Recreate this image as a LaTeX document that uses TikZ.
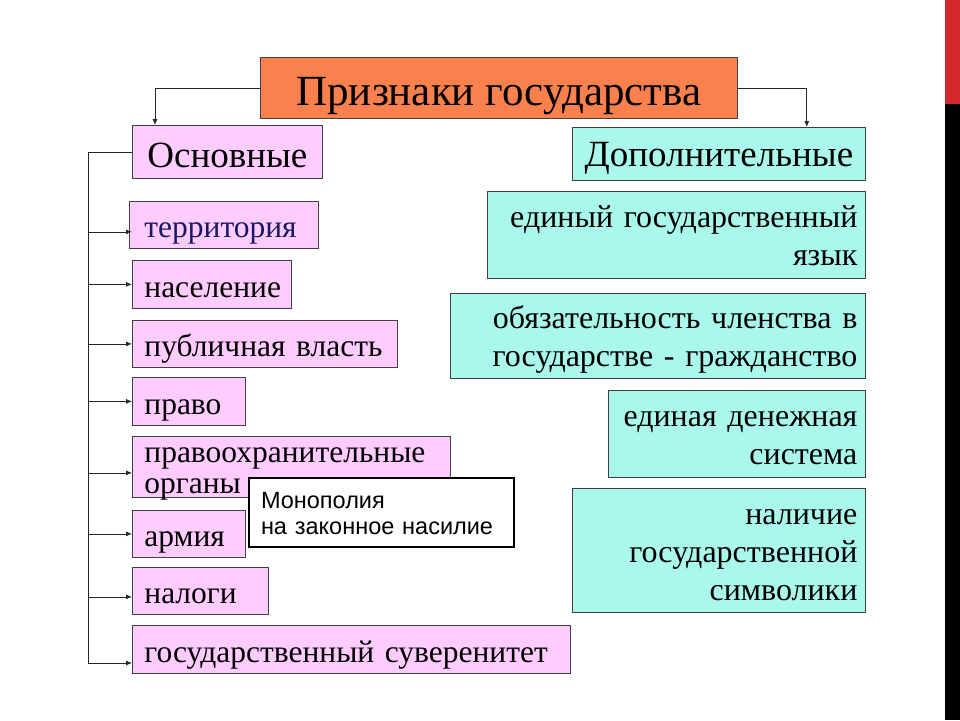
\documentclass[tikz,border=0pt]{standalone}
\usepackage{fontspec}
\setmainfont{Liberation Serif}
\setsansfont{Liberation Sans}
\usetikzlibrary{arrows.meta}
\definecolor{titleorange}{RGB}{250,128,78}
\definecolor{basicpink}{RGB}{255,204,255}
\definecolor{extracyan}{RGB}{170,247,236}
\definecolor{barred}{RGB}{210,40,46}
\definecolor{itemnavy}{RGB}{25,25,95}
\tikzset{box/.style={draw=black!75, line width=0.8pt, anchor=north west, inner ysep=0pt}}
\tikzset{basic/.style={box, fill=basicpink, inner xsep=12pt, align=left,
    text height=26pt, text depth=0pt, font=\fontsize{31.5}{31}\selectfont}}
\tikzset{extra/.style={box, fill=extracyan, inner xsep=8pt, align=right,
    text height=24pt, font=\fontsize{32}{38}\selectfont}}
\tikzset{link/.style={line width=0.8pt, color=black!85, -{Latex[length=6pt,width=5pt]}}}
\tikzset{trunk/.style={line width=0.8pt, color=black!85}}

\begin{document}
\begin{tikzpicture}[x=1pt, y=-1pt]
        \useasboundingbox (0,0) rectangle (960,720);
        \fill[barred] (945,0) rectangle (960,104);
        \fill[black] (945,104) rectangle (960,720);

        \node[box, fill=titleorange, minimum width=477pt, minimum height=61pt, text height=35pt,
        text depth=0pt, font=\fontsize{43}{46}\selectfont] (Nt) at (260, 57) {Признаки государства};
        \node[box, fill=basicpink, minimum width=190pt, minimum height=53pt, text height=31pt,
        text depth=0pt, font=\fontsize{37}{40}\selectfont] (Nm) at (132, 125) {Основные};
        \node[box, fill=extracyan, minimum width=293pt, minimum height=53pt, text height=25pt,
        text depth=0pt, font=\fontsize{37}{40}\selectfont] (Nx) at (572, 127) {Дополнительные};

        \node[basic, text width=159pt, inner xsep=15pt, minimum height=47pt, text=itemnavy] (N1) at (129, 201) {территория};
        \node[basic, text width=135pt, minimum height=48pt] (N2) at (132, 260) {население};
        \node[basic, text width=241pt, minimum height=47pt] (N3) at (132, 320) {публичная власть};
        \node[basic, text width=89pt, minimum height=48pt] (N4) at (132, 377) {право};
        \node[basic, text width=294pt, minimum height=61pt, text height=22pt, text depth=31pt] (N5) at (132, 436)
        {правоохранительные\\органы};
        \node[basic, text width=89pt, minimum height=47pt] (N6) at (132, 510) {армия};
        \node[basic, text width=112pt, minimum height=47pt] (N7) at (132, 567) {налоги};
        \node[basic, text width=414pt, minimum height=48pt] (N8) at (132, 625) {государственный суверенитет};

        \node[box, draw=black, line width=2pt, fill=white, text width=241pt, minimum height=69pt,
        inner xsep=12pt, align=left, text height=17pt, text depth=26pt,
        font=\sffamily\fontsize{23.5}{26}\selectfont] (Nmon) at (248, 477)
        {Монополия\\на законное насилие};

        \node[extra, text width=362pt, minimum height=87pt, text depth=38pt] (M1) at (487, 191)
        {единый государственный\\язык};
        \node[extra, text width=399pt, minimum height=85pt, text depth=38pt] (M2) at (450, 293)
        {обязательность членства в\\государстве - гражданство};
        \node[extra, text width=241pt, minimum height=87pt, text depth=38pt] (M3) at (608, 390)
        {единая денежная\\система};
        \node[extra, text width=277pt, minimum height=124pt, text depth=76pt] (M4) at (572, 488)
        {наличие\\государственной\\символики};

        \coordinate (Tr) at (88, 0);
        \coordinate (Te) at (88, 663);

        \draw [link] (Nt.west) -| ([xshift=23pt]Nm.north west);
        \draw [link] (Nt.east) -| ([xshift=-59pt]Nx.north east);

        \draw [trunk] (Nm.west) -- (Tr |- Nm.west) -- (Te);
        \draw [link] ([yshift=-7pt]Tr |- N1.west) -- ([yshift=-7pt]N1.west -| N2.west);
        \draw [link] (Tr |- N2.west) -- (N2.west);
        \draw [link] (Tr |- N3.west) -- (N3.west);
        \draw [link] (Tr |- N4.west) -- (N4.west);
        \draw [link] ([yshift=-6pt]Tr |- N5.west) -- ([yshift=-6pt]N5.west);
        \draw [link] (Tr |- N6.west) -- (N6.west);
        \draw [link] ([yshift=-6pt]Tr |- N7.west) -- ([yshift=-6pt]N7.west);
        \draw [link] (Te) -- (Te -| N8.west);

   \end{tikzpicture}
\end{document}
